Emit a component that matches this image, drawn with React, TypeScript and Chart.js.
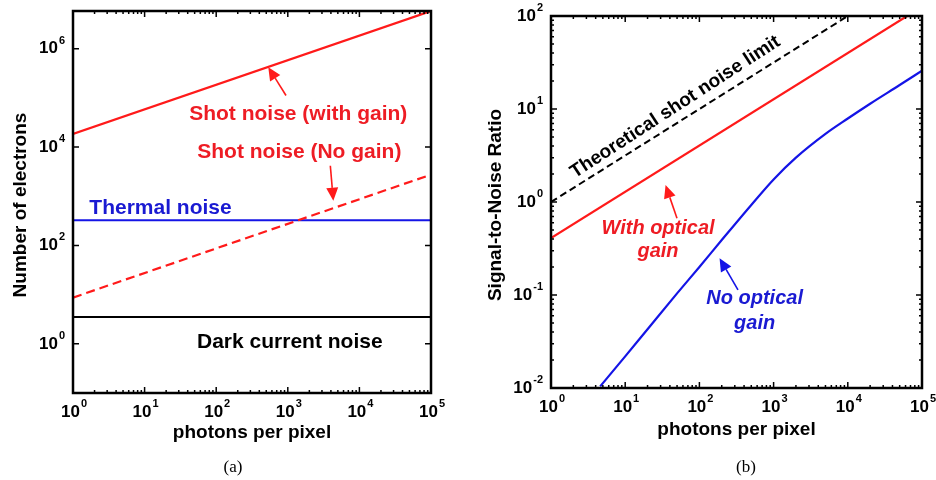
import React, { useEffect, useRef } from 'react';
import { Chart, registerables } from 'chart.js';
Chart.register(...registerables);

// ---------- data: panel (a) ----------
const photonsA = [1, 100000];
const shotNoiseWithGain = [18500, 5840000];
const shotNoiseNoGain = [8.7, 2750];
const thermalNoise = [325, 325];
const darkCurrentNoise = [3.5, 3.5];

// ---------- data: panel (b) ----------
const photonsTheory = [1, 10000];
const snrTheory = [1, 100];
const photonsWithGain = [1, 63000];
const snrWithGain = [0.41, 100];
const photonsNoGain = [4.6, 10, 20, 50, 100, 200, 500, 1000, 2000, 5000, 10000, 20000, 50000, 100000];
const snrNoGain = [0.0104, 0.0219, 0.0429, 0.104, 0.2, 0.39, 0.93, 1.75, 3.0, 5.4, 7.9, 11.4, 18.1, 25.8];

// ---------- ticks ----------
const xTickExps = [0, 1, 2, 3, 4, 5];
const yTickExpsA = [0, 2, 4, 6];
const yTickExpsB = [-2, -1, 0, 1, 2];

const RED = '#ff1a1a';
const RED_TXT = '#ee1c24';
const BLUE = '#1414e6';
const BLUE_TXT = '#1a1ad2';
const FONT = '"Liberation Sans", Arial, sans-serif';

type Txt = { text: string; x: number; y: number; color: string; font: string; align?: CanvasTextAlign; angle?: number };
type Arr = { x1: number; y1: number; x2: number; y2: number; color: string };

type Frame = {
  yLabelExps: number[];
  yMinorDecades: number[];
  xTitle: string;
  yTitle: string;
  xTitleDy: number;
  yTitleDx: number;
  caption: string;
  captionX: number;
  texts: Txt[];
  arrows: Arr[];
};

function zip(xs: number[], ys: number[]) {
  return xs.map((x, i) => ({ x, y: ys[i] }));
}

function drawPow(ctx: CanvasRenderingContext2D, exp: number, x: number, y: number, align: 'center' | 'right') {
  const base = '10';
  const e = exp < 0 ? '-' + Math.abs(exp) : String(exp);
  ctx.font = `bold 17px ${FONT}`;
  const wb = ctx.measureText(base).width;
  ctx.font = `bold 11px ${FONT}`;
  const we = ctx.measureText(e).width;
  const total = wb + 1 + we;
  const sx = align === 'center' ? x - total / 2 : x - total;
  ctx.fillStyle = '#000';
  ctx.textAlign = 'left';
  ctx.textBaseline = 'middle';
  ctx.font = `bold 17px ${FONT}`;
  ctx.fillText(base, sx, y);
  ctx.font = `bold 11px ${FONT}`;
  ctx.fillText(e, sx + wb + 1, y - 8);
}

function framePlugin(f: Frame) {
  return {
    id: 'frame',
    afterDatasetsDraw(chart: any) {
      const ctx: CanvasRenderingContext2D = chart.ctx;
      const xs = chart.scales.x;
      const ys = chart.scales.y;
      const { left, right, top, bottom } = chart.chartArea;
      ctx.save();
      // annotations
      for (const t of f.texts) {
        const px = xs.getPixelForValue(t.x);
        const py = ys.getPixelForValue(t.y);
        ctx.save();
        ctx.translate(px, py);
        if (t.angle) ctx.rotate((t.angle * Math.PI) / 180);
        ctx.font = t.font;
        ctx.fillStyle = t.color;
        ctx.textAlign = t.align || 'center';
        ctx.textBaseline = 'middle';
        ctx.fillText(t.text, 0, 0);
        ctx.restore();
      }
      for (const a of f.arrows) {
        const x1 = xs.getPixelForValue(a.x1);
        const y1 = ys.getPixelForValue(a.y1);
        const x2 = xs.getPixelForValue(a.x2);
        const y2 = ys.getPixelForValue(a.y2);
        const ang = Math.atan2(y2 - y1, x2 - x1);
        const hl = 13;
        const hw = 6;
        const bx = x2 - hl * Math.cos(ang);
        const by = y2 - hl * Math.sin(ang);
        ctx.strokeStyle = a.color;
        ctx.fillStyle = a.color;
        ctx.lineWidth = 1.6;
        ctx.beginPath();
        ctx.moveTo(x1, y1);
        ctx.lineTo(bx, by);
        ctx.stroke();
        ctx.beginPath();
        ctx.moveTo(x2, y2);
        ctx.lineTo(bx + hw * Math.sin(ang), by - hw * Math.cos(ang));
        ctx.lineTo(bx - hw * Math.sin(ang), by + hw * Math.cos(ang));
        ctx.closePath();
        ctx.fill();
      }
      // ticks
      ctx.strokeStyle = '#000';
      ctx.lineWidth = 1.5;
      ctx.beginPath();
      for (const e of xTickExps) {
        const px = xs.getPixelForValue(Math.pow(10, e));
        ctx.moveTo(px, bottom); ctx.lineTo(px, bottom - 6);
        ctx.moveTo(px, top); ctx.lineTo(px, top + 6);
        if (e < 5) {
          for (let k = 2; k <= 9; k++) {
            const mx = xs.getPixelForValue(k * Math.pow(10, e));
            ctx.moveTo(mx, bottom); ctx.lineTo(mx, bottom - 3);
            ctx.moveTo(mx, top); ctx.lineTo(mx, top + 3);
          }
        }
      }
      for (const e of f.yLabelExps) {
        const py = ys.getPixelForValue(Math.pow(10, e));
        ctx.moveTo(left, py); ctx.lineTo(left + 6, py);
        ctx.moveTo(right, py); ctx.lineTo(right - 6, py);
      }
      for (const e of f.yMinorDecades) {
        for (let k = 2; k <= 9; k++) {
          const my = ys.getPixelForValue(k * Math.pow(10, e));
          ctx.moveTo(left, my); ctx.lineTo(left + 3, my);
          ctx.moveTo(right, my); ctx.lineTo(right - 3, my);
        }
      }
      ctx.stroke();
      // box
      ctx.lineWidth = 2.5;
      ctx.strokeRect(left, top, right - left, bottom - top);
      // tick labels
      for (const e of xTickExps) {
        drawPow(ctx, e, xs.getPixelForValue(Math.pow(10, e)) + 1, bottom + 19, 'center');
      }
      for (const e of f.yLabelExps) {
        drawPow(ctx, e, left - 8, ys.getPixelForValue(Math.pow(10, e)), 'right');
      }
      // titles
      ctx.fillStyle = '#000';
      ctx.font = `bold 19px ${FONT}`;
      ctx.textAlign = 'center';
      ctx.textBaseline = 'middle';
      ctx.fillText(f.xTitle, (left + right) / 2, bottom + f.xTitleDy);
      ctx.save();
      ctx.translate(left - f.yTitleDx, (top + bottom) / 2 + 3);
      ctx.rotate(-Math.PI / 2);
      ctx.fillText(f.yTitle, 0, 0);
      ctx.restore();
      ctx.font = `17px "Liberation Serif", "Times New Roman", serif`;
      ctx.fillText(f.caption, f.captionX, 468);
      ctx.restore();
    },
  };
}

function useChart(ref: React.RefObject<HTMLCanvasElement>, make: (c: HTMLCanvasElement) => Chart) {
  useEffect(() => {
    if (!ref.current) return;
    const ch = make(ref.current);
    return () => ch.destroy();
  }, []);
}

const lineDs = (label: string, data: any[], color: string, width: number, dash: number[] = [], mono = false) => ({
  label,
  data,
  borderColor: color,
  backgroundColor: color,
  borderWidth: width,
  borderDash: dash,
  pointRadius: 0,
  fill: false,
  tension: 0,
  cubicInterpolationMode: mono ? 'monotone' : 'default',
});

function baseOptions(yMin: number, yMax: number, padding: any) {
  return {
    responsive: false,
    animation: false,
    devicePixelRatio: 1,
    layout: { padding },
    plugins: { legend: { display: false }, tooltip: { enabled: false }, title: { display: false } },
    scales: {
      x: { type: 'logarithmic', min: 1, max: 100000, display: false },
      y: { type: 'logarithmic', min: yMin, max: yMax, display: false },
    },
  } as any;
}

export default function App() {
  const refA = useRef<HTMLCanvasElement>(null);
  const refB = useRef<HTMLCanvasElement>(null);

  useChart(refA, (c) =>
    new Chart(c, {
      type: 'line',
      data: {
        datasets: [
          lineDs('Shot noise (with gain)', zip(photonsA, shotNoiseWithGain), RED, 2.2),
          lineDs('Shot noise (No gain)', zip(photonsA, shotNoiseNoGain), RED, 2.2, [9, 5]),
          lineDs('Thermal noise', zip(photonsA, thermalNoise), BLUE, 2),
          lineDs('Dark current noise', zip(photonsA, darkCurrentNoise), '#000', 2),
        ],
      },
      options: baseOptions(0.1, 5840000, { left: 73, top: 11, right: 35, bottom: 87 }),
      plugins: [
        framePlugin({
          yLabelExps: yTickExpsA,
          yMinorDecades: [],
          xTitle: 'photons per pixel',
          yTitle: 'Number of electrons',
          xTitleDy: 40,
          yTitleDx: 52,
          caption: '(a)',
          captionX: 233,
          texts: [
            { text: 'Shot noise (with gain)', x: 1400, y: 45600, color: RED_TXT, font: `bold 21px ${FONT}` },
            { text: 'Shot noise (No gain)', x: 1449, y: 7690, color: RED_TXT, font: `bold 21px ${FONT}` },
            { text: 'Thermal noise', x: 1.69, y: 583, color: BLUE_TXT, font: `bold 21px ${FONT}`, align: 'left' },
            { text: 'Dark current noise', x: 1066, y: 1.1, color: '#000', font: `bold 21px ${FONT}` },
          ],
          arrows: [
            { x1: 944, y1: 111700, x2: 534, y2: 421000, color: RED },
            { x1: 3926, y1: 4180, x2: 4325, y2: 809, color: RED },
          ],
        }) as any,
      ],
    } as any)
  );

  useChart(refB, (c) =>
    new Chart(c, {
      type: 'line',
      data: {
        datasets: [
          lineDs('Theoretical shot noise limit', zip(photonsTheory, snrTheory), '#000', 2, [7, 4]),
          lineDs('With optical gain', zip(photonsWithGain, snrWithGain), RED, 2.2),
          lineDs('No optical gain', zip(photonsNoGain, snrNoGain), BLUE, 2.2, [], true),
        ],
      },
      options: baseOptions(0.01, 100, { left: 85, top: 16, right: 14, bottom: 92 }),
      plugins: [
        framePlugin({
          yLabelExps: yTickExpsB,
          yMinorDecades: [-2, -1, 0, 1],
          xTitle: 'photons per pixel',
          yTitle: 'Signal-to-Noise Ratio',
          xTitleDy: 42,
          yTitleDx: 55,
          caption: '(b)',
          captionX: 280,
          texts: [
            { text: 'Theoretical shot noise limit', x: 47.3, y: 10.5, color: '#000', font: `bold 19px ${FONT}`, angle: -33 },
            { text: 'With optical', x: 27.7, y: 0.522, color: RED_TXT, font: `italic bold 20px ${FONT}` },
            { text: 'gain', x: 27.7, y: 0.292, color: RED_TXT, font: `italic bold 20px ${FONT}` },
            { text: 'No optical', x: 555, y: 0.0925, color: BLUE_TXT, font: `italic bold 20px ${FONT}` },
            { text: 'gain', x: 555, y: 0.0499, color: BLUE_TXT, font: `italic bold 20px ${FONT}` },
          ],
          arrows: [
            { x1: 49.9, y1: 0.668, x2: 35.0, y2: 1.52, color: RED },
            { x1: 331, y1: 0.1135, x2: 187, y2: 0.249, color: BLUE },
          ],
        }) as any,
      ],
    } as any)
  );

  return (
    <div style={{ position: 'fixed', left: 0, top: 0, width: 936, height: 480, background: '#fff' }}>
      <canvas ref={refA} width={466} height={480} style={{ position: 'absolute', left: 0, top: 0, width: 466, height: 480 }} />
      <canvas ref={refB} width={470} height={480} style={{ position: 'absolute', left: 466, top: 0, width: 470, height: 480 }} />
    </div>
  );
}
